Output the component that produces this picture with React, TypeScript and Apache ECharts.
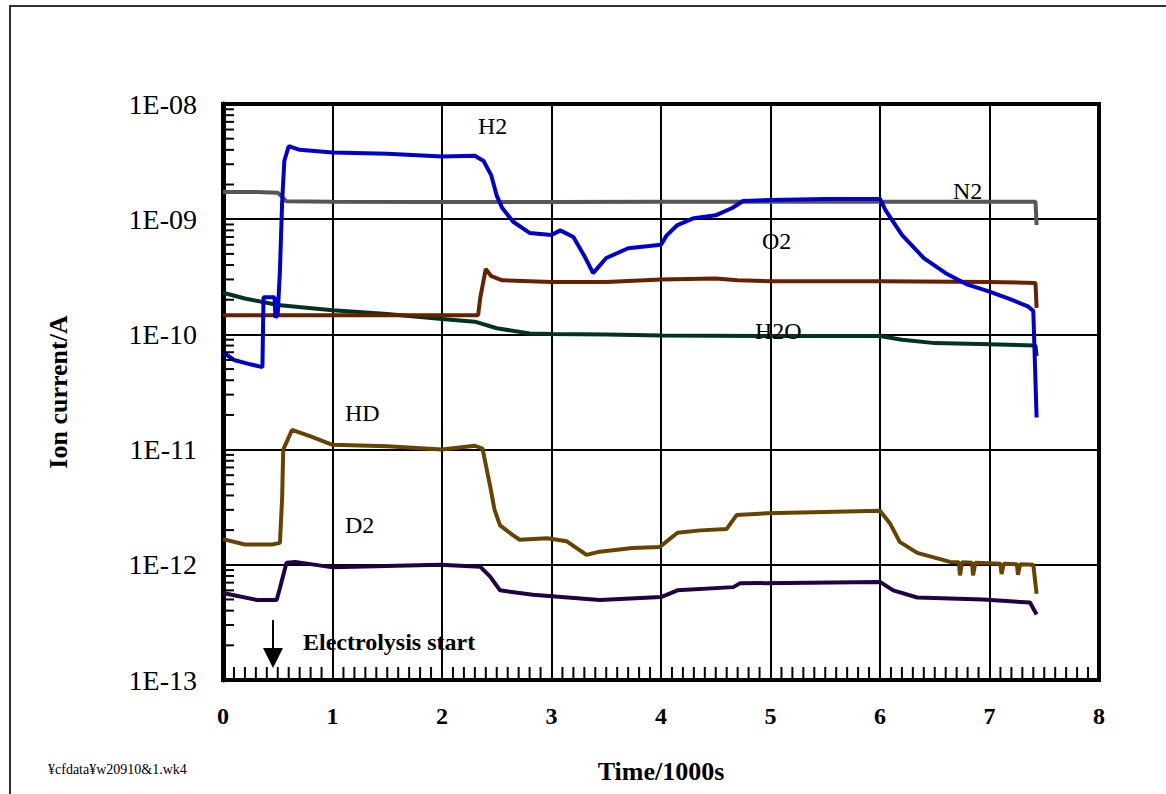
import React, { useEffect, useRef } from "react";
import * as echarts from "echarts";

// Time in 1000 s, ion current in A
const h2Data: [number, number][] = [
  [0, 7.0e-11], [0.1, 6.0e-11], [0.25, 5.5e-11], [0.36, 5.2e-11], [0.37, 2.1e-10],
  [0.47, 2.1e-10], [0.48, 1.4e-10], [0.5, 1.5e-10], [0.52, 3.6e-10], [0.54, 1.4e-9],
  [0.56, 3.2e-9], [0.6, 4.3e-9], [0.7, 4.0e-9], [1.0, 3.8e-9], [1.5, 3.7e-9],
  [2.0, 3.5e-9], [2.3, 3.55e-9], [2.38, 3.2e-9], [2.45, 2.4e-9], [2.5, 1.6e-9],
  [2.55, 1.25e-9], [2.65, 9.5e-10], [2.8, 7.6e-10], [3.0, 7.3e-10], [3.08, 8.0e-10],
  [3.2, 7.0e-10], [3.3, 4.8e-10], [3.38, 3.4e-10], [3.5, 4.6e-10], [3.7, 5.6e-10],
  [4.0, 6.0e-10], [4.05, 7.2e-10], [4.15, 8.9e-10], [4.3, 1.02e-9], [4.5, 1.08e-9],
  [4.65, 1.25e-9], [4.75, 1.44e-9], [5.0, 1.47e-9], [5.5, 1.5e-9], [6.0, 1.5e-9],
  [6.05, 1.2e-9], [6.2, 7.3e-10], [6.4, 4.6e-10], [6.6, 3.4e-10], [6.8, 2.7e-10],
  [7.0, 2.35e-10], [7.2, 2.0e-10], [7.35, 1.75e-10], [7.4, 1.6e-10], [7.43, 1.9e-11],
];

const n2Data: [number, number][] = [
  [0, 1.72e-9], [0.3, 1.72e-9], [0.5, 1.7e-9], [0.58, 1.43e-9], [1.0, 1.42e-9],
  [2.0, 1.41e-9], [3.0, 1.41e-9], [4.0, 1.42e-9], [5.0, 1.42e-9], [6.0, 1.42e-9],
  [7.0, 1.42e-9], [7.42, 1.42e-9], [7.43, 8.9e-10],
];

const o2Data: [number, number][] = [
  [0, 1.47e-10], [2.33, 1.47e-10], [2.35, 2.1e-10], [2.4, 3.7e-10], [2.45, 3.2e-10],
  [2.55, 2.95e-10], [3.0, 2.85e-10], [3.5, 2.85e-10], [4.0, 3.0e-10], [4.5, 3.05e-10],
  [4.7, 2.95e-10], [5.0, 2.9e-10], [6.0, 2.9e-10], [7.0, 2.85e-10], [7.42, 2.8e-10],
  [7.43, 1.7e-10],
];

const h2oData: [number, number][] = [
  [0, 2.3e-10], [0.2, 2.05e-10], [0.5, 1.8e-10], [1.0, 1.62e-10], [1.5, 1.5e-10],
  [2.0, 1.36e-10], [2.3, 1.29e-10], [2.5, 1.13e-10], [2.8, 1.02e-10], [3.0, 1.01e-10],
  [3.5, 1.0e-10], [4.0, 0.98e-10], [5.0, 0.97e-10], [6.0, 0.97e-10], [6.2, 0.9e-10],
  [6.5, 0.84e-10], [7.0, 0.82e-10], [7.42, 0.8e-10], [7.43, 0.65e-10],
];

const hdData: [number, number][] = [
  [0, 1.67e-12], [0.2, 1.5e-12], [0.45, 1.5e-12], [0.52, 1.55e-12], [0.54, 3.8e-12],
  [0.55, 1.0e-11], [0.63, 1.48e-11], [0.8, 1.3e-11], [1.0, 1.1e-11], [1.5, 1.07e-11],
  [2.0, 1.0e-11], [2.3, 1.08e-11], [2.37, 1.02e-11], [2.44, 4.8e-12], [2.48, 3.0e-12],
  [2.53, 2.2e-12], [2.65, 1.8e-12], [2.71, 1.65e-12], [2.96, 1.7e-12], [3.14, 1.6e-12],
  [3.32, 1.22e-12], [3.44, 1.3e-12], [3.74, 1.4e-12], [3.99, 1.43e-12], [4.15, 1.9e-12],
  [4.36, 1.99e-12], [4.6, 2.05e-12], [4.69, 2.7e-12], [4.97, 2.8e-12], [6.0, 2.94e-12],
  [6.09, 2.3e-12], [6.18, 1.58e-12], [6.34, 1.27e-12], [6.64, 1.06e-12], [6.72, 1.05e-12],
  [6.73, 8.1e-13], [6.75, 1.05e-12], [6.84, 1.04e-12], [6.85, 8.1e-13], [6.87, 1.04e-12],
  [7.1, 1.02e-12], [7.11, 8.3e-13], [7.13, 1.02e-12], [7.25, 1.01e-12], [7.26, 8.2e-13],
  [7.28, 1.01e-12], [7.4, 1.0e-12], [7.43, 5.6e-13],
];

const d2Data: [number, number][] = [
  [0, 5.7e-13], [0.31, 4.95e-13], [0.49, 4.95e-13], [0.52, 6.3e-13], [0.58, 1.04e-12],
  [0.66, 1.06e-12], [1.0, 9.5e-13], [1.98, 1.0e-12], [2.35, 9.6e-13], [2.44, 7.9e-13],
  [2.53, 6.0e-13], [2.83, 5.5e-13], [3.44, 4.95e-13], [4.0, 5.25e-13], [4.15, 6.0e-13],
  [4.66, 6.4e-13], [4.72, 6.9e-13], [6.0, 7.1e-13], [6.12, 6.0e-13], [6.34, 5.2e-13],
  [6.94, 5.0e-13], [7.37, 4.7e-13], [7.43, 3.7e-13],
];

const seriesNames = ["H2", "N2", "O2", "H2O", "HD", "D2"];
const seriesColors = ["#0000cc", "#555555", "#662200", "#003322", "#664400", "#220044"];
const seriesData = [h2Data, n2Data, o2Data, h2oData, hdData, d2Data];

const xTicks = [0, 1, 2, 3, 4, 5, 6, 7, 8];
const xMinorSteps = [1, 2, 3, 4, 5, 6, 7, 8, 9];
const decadeExponents = [-13, -12, -11, -10, -9, -8];
const minorMultipliers = [2, 3, 4, 5, 6, 7, 8, 9];

const serif = "'Liberation Serif', 'DejaVu Serif', serif";
const GRID = { left: 223, right: 67, top: 104, bottom: 114 };

export default function App() {
  const ref = useRef<HTMLDivElement>(null);

  useEffect(() => {
    if (!ref.current) return;
    const chart = echarts.init(ref.current, undefined, { renderer: "svg" });

    const yMin = 1e-13;
    const yMax = 1e-8;
    const labelStyle = { fontFamily: serif, fontSize: 24, color: "#000" };

    const option: any = {
      animation: false,
      backgroundColor: "#fff",
      grid: {
        ...GRID,
        show: true,
        borderColor: "#000",
        borderWidth: 4,
      },
      xAxis: {
        type: "value",
        min: xTicks[0],
        max: xTicks[xTicks.length - 1],
        interval: 1,
        name: "Time/1000s",
        nameLocation: "middle",
        nameGap: 78,
        nameTextStyle: { fontFamily: serif, fontSize: 26, fontWeight: "bold", color: "#000" },
        axisLine: { show: true, lineStyle: { color: "#000", width: 4 } },
        axisTick: { show: false },
        axisLabel: { ...labelStyle, fontWeight: "bold", margin: 24 },
        splitLine: { show: true, lineStyle: { color: "#000", width: 2 } },
      },
      yAxis: {
        type: "log",
        logBase: 10,
        min: yMin,
        max: yMax,
        name: "Ion current/A",
        nameLocation: "middle",
        nameGap: 152,
        nameRotate: 90,
        nameTextStyle: { fontFamily: serif, fontSize: 26, fontWeight: "bold", color: "#000" },
        axisLine: { show: true, lineStyle: { color: "#000", width: 5 } },
        axisTick: { show: false },
        axisLabel: {
          ...labelStyle,
          fontSize: 28,
          margin: 26,
          formatter: (v: number) => {
            const e = Math.round(Math.log10(v));
            return "1E-" + String(-e).padStart(2, "0");
          },
        },
        splitLine: { show: true, lineStyle: { color: "#000", width: 2 } },
      },
      series: seriesNames.map((name, i) => ({
        name,
        type: "line",
        data: seriesData[i],
        showSymbol: false,
        symbol: "none",
        lineStyle: { color: seriesColors[i], width: 4 },
        z: 10 - i,
      })),
    };

    chart.setOption(option);

    // Minor ticks placed through the axes' own scales
    const midY = 1e-10;
    const plotLeft = GRID.left;
    const plotBottom = chart.getHeight() - GRID.bottom;
    const tickEls: any[] = [];

    for (let i = 0; i < xTicks.length - 1; i++) {
      for (const s of xMinorSteps) {
        const p = chart.convertToPixel({ gridIndex: 0 }, [xTicks[i] + s / 10, midY]) as number[];
        const px = p && isFinite(p[0]) ? p[0] : NaN;
        if (!isFinite(px)) continue;
        tickEls.push({
          type: "rect",
          shape: { x: px - 1, y: plotBottom - 13, width: 2, height: 13 },
          style: { fill: "#000" },
          silent: true,
          z: 50,
        });
      }
    }
    for (let i = 0; i < decadeExponents.length - 1; i++) {
      for (const m of minorMultipliers) {
        const v = m * Math.pow(10, decadeExponents[i]);
        const p = chart.convertToPixel({ gridIndex: 0 }, [4, v]) as number[];
        const py = p && isFinite(p[1]) ? p[1] : NaN;
        if (!isFinite(py)) continue;
        tickEls.push({
          type: "rect",
          shape: { x: plotLeft, y: py - 1, width: 11, height: 2 },
          style: { fill: "#000" },
          silent: true,
          z: 50,
        });
      }
    }

    const text = (t: string, left: number, top: number, font: string) => ({
      type: "text",
      left,
      top,
      style: { text: t, font, fill: "#000" },
      z: 100,
    });

    chart.setOption({
      graphic: [
        {
          type: "rect",
          shape: { x: 10, y: 6, width: 1300, height: 900 },
          style: { fill: "none", stroke: "#333", lineWidth: 2 },
          silent: true,
          z: -10,
        },
        ...tickEls,
        text("H2", 478, 114, `24px ${serif}`),
        text("N2", 953, 179, `24px ${serif}`),
        text("O2", 762, 229, `24px ${serif}`),
        text("H2O", 755, 319, `24px ${serif}`),
        text("HD", 345, 401, `24px ${serif}`),
        text("D2", 345, 513, `24px ${serif}`),
        {
          type: "line",
          shape: { x1: 273, y1: 620, x2: 273, y2: 650 },
          style: { stroke: "#000", lineWidth: 2 },
          z: 100,
        },
        {
          type: "polygon",
          shape: { points: [[263, 648], [283, 648], [273, 668]] },
          style: { fill: "#000" },
          z: 100,
        },
        text("Electrolysis start", 303, 630, `bold 24px ${serif}`),
        text("¥cfdata¥w20910&1.wk4", 48, 762, `14px ${serif}`),
      ],
    });

    return () => chart.dispose();
  }, []);

  return (
    <div
      ref={ref}
      style={{ position: "fixed", left: 0, top: 0, width: 1166, height: 794, background: "#fff" }}
    />
  );
}
